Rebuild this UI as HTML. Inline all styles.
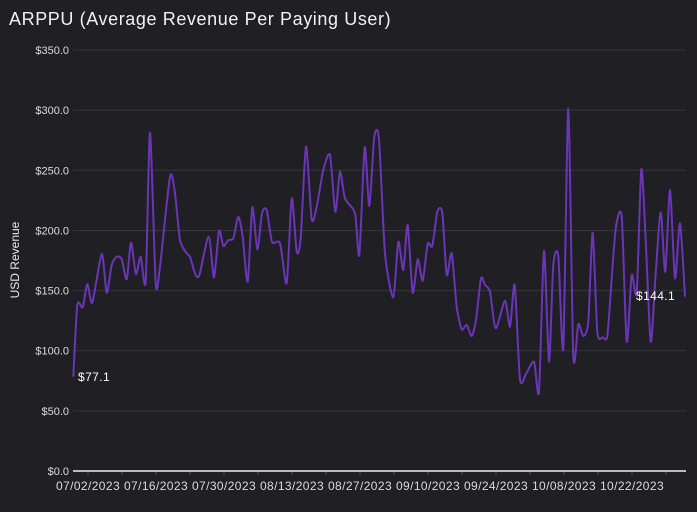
<!DOCTYPE html>
<html><head><meta charset="utf-8"><style>
html,body{margin:0;padding:0;background:#1f1f24;}
svg{display:block;}
text{font-family:"Liberation Sans",sans-serif;}
</style></head><body>
<svg id="s" width="697" height="512" viewBox="0 0 697 512">
<rect width="697" height="512" fill="#1f1f24"/>
<text x="9" y="25" fill="#f2f2f2" font-size="18" letter-spacing="0.6">ARPPU (Average Revenue Per Paying User)</text>
<text transform="translate(19,260) rotate(-90)" fill="#e8e8e8" font-size="12" text-anchor="middle">USD Revenue</text>
<g id="grid"></g>
<line x1="73" y1="471" x2="686" y2="471" stroke="#f0f0f0" stroke-width="1.5"/>
<path id="ln" fill="none" stroke="#6b35b8" stroke-width="2" stroke-linejoin="round"/>
<text x="78" y="381" fill="#ffffff" font-size="12" letter-spacing="0.4">$77.1</text>
<text x="636" y="300" fill="#ffffff" font-size="12" letter-spacing="0.4">$144.1</text>
</svg>
<script>
var g=document.getElementById('grid'),h='';
var labs=['$0.0','$50.0','$100.0','$150.0','$200.0','$250.0','$300.0','$350.0'];
for(var i=0;i<8;i++){var y=471-i*60.14;
 if(i>0)h+='<line x1="73" x2="686" y1="'+y+'" y2="'+y+'" stroke="#36363c" stroke-width="1"/>';
 h+='<text x="69" y="'+(y+4)+'" fill="#dcdcdc" font-size="11" text-anchor="end">'+labs[i]+'</text>';}
var xl=['07/02/2023','07/16/2023','07/30/2023','08/13/2023','08/27/2023','09/10/2023','09/24/2023','10/08/2023','10/22/2023'];
for(var k=0;k<18;k++){var x=88+k*34;if(x>686)break;
 h+='<line x1="'+x+'" x2="'+x+'" y1="472" y2="475" stroke="#555" />';
 if(k%2==0)h+='<text x="'+x+'" y="490" fill="#dcdcdc" font-size="12" letter-spacing="0.4" text-anchor="middle">'+xl[k/2]+'</text>';}
g.innerHTML=h;
var p=[[73.3,376.7],[77.3,305],[82.7,307.3],[87.3,284],[92.3,302.7],[101.7,254],[106.7,292.7],[111.7,265],[116.7,256.7],[121.7,259.3],[126.7,279.3],[131,242.7],[136,274],[140.7,256.7],[145.7,281.7],[150,132.7],[155.7,283.3],[160,266.7],[170,176.7],[175,193.3],[180,240],[186.7,253.3],[190,256.7],[195,273.3],[199.3,275.3],[208.7,236.7],[214,277.3],[219,231],[223.3,246],[228.3,240],[233.3,238.3],[238.3,216.7],[242.7,236.7],[247.7,281.7],[252.3,207.3],[257.3,249.3],[262,213.3],[266.7,210],[272,241.7],[280,243.3],[286.7,283.3],[291.7,198.3],[296.7,251.7],[300.7,238.3],[306,146.7],[311.7,219.3],[316.7,206.7],[323.3,170],[330,155],[335.3,211.7],[340,171.7],[345,198.3],[355,213.3],[359.3,255],[364.7,147.3],[369.3,206],[374.3,136.7],[379,139.3],[385,253.3],[393.3,297.3],[398.3,241.7],[403.3,270],[407.7,225],[412.7,292.7],[417.7,259.3],[422.7,280.7],[427.7,244],[432.3,246],[437.3,211.7],[442.3,212.7],[446.7,275],[451.7,253.3],[456.7,306.7],[461.7,329.3],[466.7,325],[471.7,336],[476,320],[481,278.3],[485,285],[490,291.7],[495.7,328.3],[505,300.7],[510,326.7],[514.7,285],[520,379.3],[526,374],[534,361.7],[539,391.7],[544,250.7],[549,361.7],[553.3,265],[558.3,256],[563.3,348.3],[568.3,108.3],[573.3,356],[578.3,324],[583.3,336],[588.3,321.7],[592.7,232.7],[597.3,331.7],[602.7,337.3],[607.3,336],[611.7,278.3],[616,226.7],[621.7,216.7],[626.7,341.7],[631.7,275],[636.7,292.7],[641.3,169.3],[645.7,240],[650.7,341.7],[655.7,273.3],[660.7,212.3],[665.3,271.7],[670,190],[675,278.3],[680,223.3],[685,296.7]];
var d='M'+p[0][0]+','+p[0][1];
for(var i=0;i<p.length-1;i++){var a=p[Math.max(0,i-1)],b=p[i],c=p[i+1],e=p[Math.min(p.length-1,i+2)];
 var t=0.12;
 d+=' C'+(b[0]+(c[0]-a[0])*t).toFixed(1)+','+(b[1]+(c[1]-a[1])*t).toFixed(1)+' '+(c[0]-(e[0]-b[0])*t).toFixed(1)+','+(c[1]-(e[1]-b[1])*t).toFixed(1)+' '+c[0]+','+c[1];}
document.getElementById('ln').setAttribute('d',d);
</script>
</body></html>
